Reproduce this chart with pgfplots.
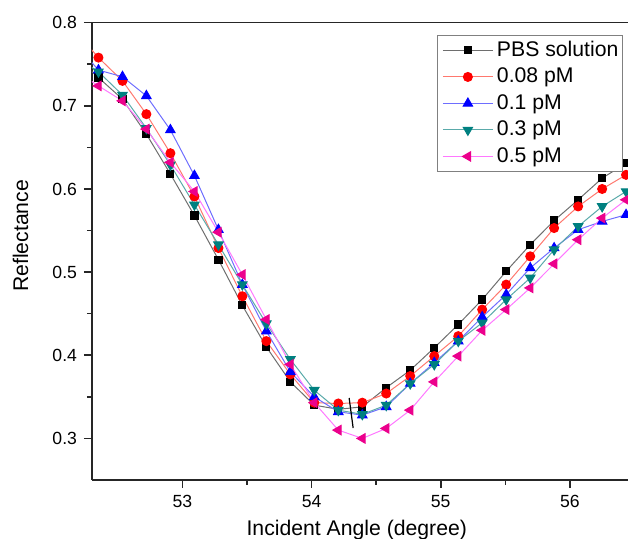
\documentclass[border=0pt]{standalone}
\usepackage{fontspec}
\setmainfont{Liberation Sans}
\usepackage{pgfplots}
\usepackage{pgfplotstable}
\pgfplotsset{compat=1.18}
\definecolor{cteal}{RGB}{0,128,128}
\definecolor{lblack}{RGB}{110,110,110}
\definecolor{lred}{RGB}{255,120,110}
\definecolor{lblue}{RGB}{110,110,255}
\definecolor{lteal}{RGB}{90,170,170}
\definecolor{lmag}{RGB}{255,120,255}
\pgfplotstableread{
x pbs red blue teal mag
52.164 0.760 0.791 0.776 0.760 0.743
52.350 0.734 0.758 0.743 0.741 0.724
52.536 0.708 0.730 0.735 0.713 0.706
52.721 0.666 0.690 0.712 0.673 0.672
52.907 0.618 0.643 0.671 0.629 0.632
53.093 0.568 0.591 0.616 0.581 0.597
53.279 0.515 0.529 0.551 0.533 0.548
53.464 0.460 0.471 0.485 0.485 0.497
53.650 0.410 0.417 0.429 0.438 0.443
53.836 0.368 0.377 0.380 0.395 0.389
54.021 0.340 0.343 0.350 0.358 0.343
54.207 0.335 0.342 0.332 0.334 0.310
54.393 0.338 0.343 0.328 0.329 0.300
54.578 0.361 0.354 0.338 0.340 0.312
54.764 0.382 0.375 0.366 0.366 0.334
54.950 0.409 0.399 0.391 0.389 0.368
55.136 0.437 0.423 0.417 0.417 0.399
55.321 0.467 0.455 0.446 0.439 0.430
55.507 0.501 0.485 0.473 0.467 0.455
55.693 0.533 0.519 0.505 0.493 0.481
55.878 0.562 0.553 0.529 0.527 0.510
56.064 0.587 0.579 0.551 0.555 0.539
56.250 0.613 0.600 0.561 0.579 0.565
56.435 0.631 0.617 0.569 0.597 0.587
}\data
\newcommand\tickfont{\fontsize{8.8}{10}\selectfont}
\newcommand\labfont{\fontsize{10.6}{12}\selectfont}
\begin{document}
\begin{tikzpicture}
\begin{axis}[
  scale only axis, width=268pt, height=228.65pt,
  xmin=52.3, xmax=56.45, ymin=0.25, ymax=0.8,
  axis x line*=box, axis y line*=left,
  xtick={53,54,55,56}, ytick={0.3,0.4,0.5,0.6,0.7,0.8},
  minor x tick num=1, minor y tick num=1,
  tick align=outside, xtick pos=left, ytick pos=left,
  major tick length=4pt, minor tick length=2.5pt,
  axis line style={line width=0.8pt, black!85},
  every tick/.style={line width=0.8pt, black!85},
  /pgf/number format/assume math mode=true,
  tick label style={font=\tickfont},
  yticklabel style={/pgf/number format/fixed, /pgf/number format/precision=1, /pgf/number format/fixed zerofill},
  xlabel={Incident Angle (degree)},
  xlabel style={at={(axis description cs:0.494,-0.1203)}, anchor=base, font=\labfont},
  ylabel={Reflectance},
  ylabel style={at={(axis description cs:-0.1334,0.534)}, anchor=center, font=\labfont},
  legend style={at={(rel axis cs:0.991,0.974)}, anchor=north east, draw=gray, font=\labfont,
    inner xsep=0.4pt, inner ysep=1pt, row sep=0.35pt, nodes={inner xsep=1.8pt, inner ysep=2pt}},
  legend cell align=left,
  legend image code/.code={\path (-2pt,0pt) (25pt,0pt); \draw[mark repeat=2,mark phase=2,#1] plot coordinates {(0pt,0pt) (12.5pt,0pt) (25pt,0pt)};},
]
\coordinate (BL) at (rel axis cs:0,0);
\addplot[color=lblack, line width=0.5pt, mark=square*, mark size=1.8pt, mark options={solid, fill=black, draw=black}] table[x=x,y=pbs]{\data};
\addlegendentry{PBS solution}
\addplot[color=lred, line width=0.5pt, mark=*, mark size=2.25pt, mark options={solid, fill=red, draw=red}] table[x=x,y=red]{\data};
\addlegendentry{0.08 pM}
\addplot[color=lblue, line width=0.5pt, mark=triangle*, mark size=2.7pt, mark options={solid, fill=blue, draw=blue}] table[x=x,y=blue]{\data};
\addlegendentry{0.1 pM}
\addplot[color=lteal, line width=0.5pt, mark=triangle*, mark size=2.7pt, mark options={solid, fill=cteal, draw=cteal, rotate=180}] table[x=x,y=teal]{\data};
\addlegendentry{0.3 pM}
\addplot[color=lmag, line width=0.5pt, mark=triangle*, mark size=2.7pt, mark options={solid, fill=magenta, draw=magenta, rotate=90}] table[x=x,y=mag]{\data};
\addlegendentry{0.5 pM}
\draw[black, line width=0.6pt] (axis cs:54.291,0.3486) -- (axis cs:54.322,0.3125);
\end{axis}
\pgfresetboundingbox
\path[use as bounding box] (BL) ++(-46pt,-29.5pt) rectangle ++(314pt,269.5pt);
\end{tikzpicture}
\end{document}
